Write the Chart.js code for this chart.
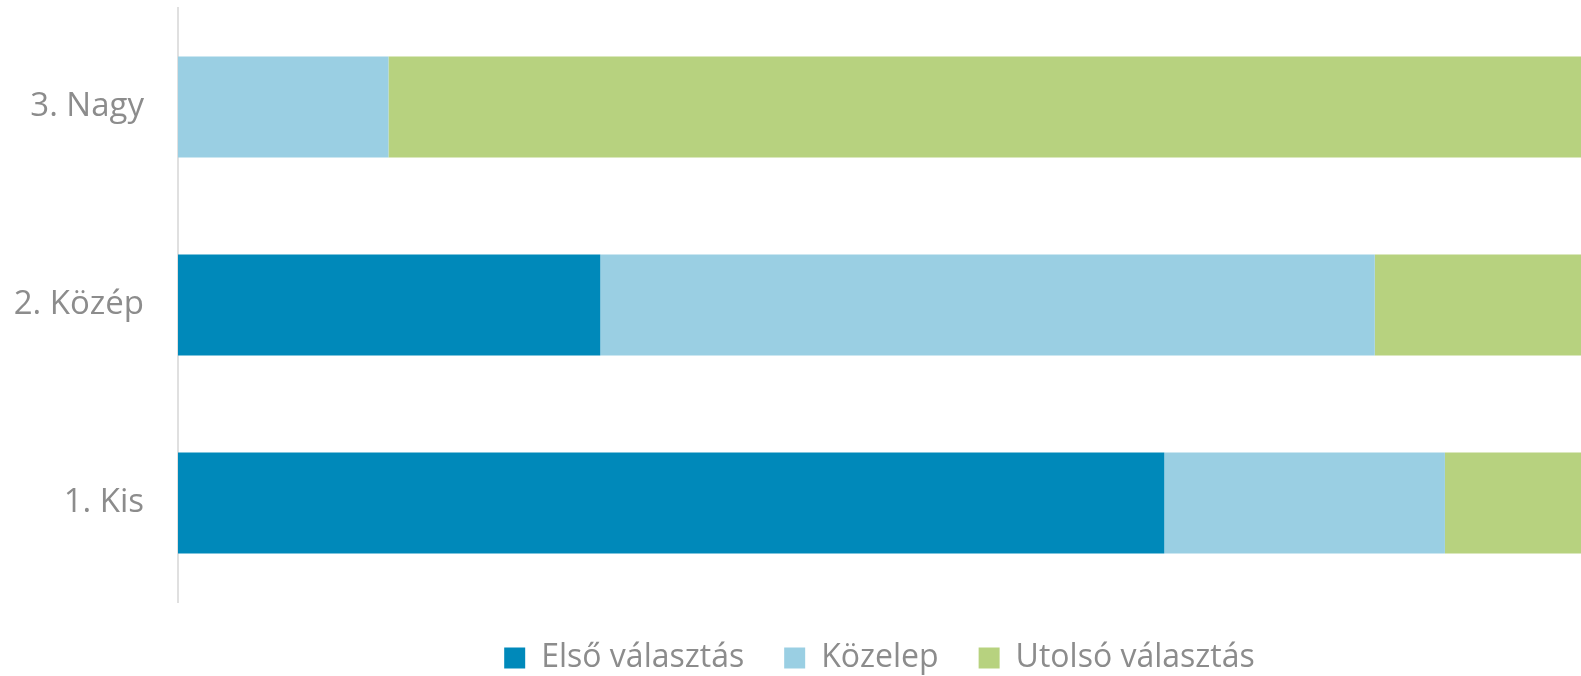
<!DOCTYPE html>
<html>
<head>
<meta charset="utf-8">
<script src="https://cdn.jsdelivr.net/npm/chart.js@4/dist/chart.umd.min.js"></script>
<style>
  body { margin: 0; background: #fff; }
  #wrap { width: 1581px; height: 676px; }
</style>
</head>
<body>
<div id="wrap"><canvas id="chart"></canvas></div>
<script>
const categories = ['1. Kis', '2. Közép', '3. Nagy'];
const elsoValasztas = [70.3, 30.1, 0];
const kozelep = [20, 55.2, 15];
const utolsoValasztas = [9.7, 14.7, 85];

// keep the legend band a fixed height so the plot area reaches down to it
const legendBand = {
  id: 'legendBand',
  beforeLayout(chart) {
    const lg = chart.legend;
    if (lg && !lg._banded) {
      const fit = lg.fit;
      lg.fit = function () {
        fit.call(this);
        this.height = 74;
      };
      lg._banded = true;
    }
  },
};

const ctx = document.getElementById('chart').getContext('2d');

new Chart(ctx, {
  type: 'bar',
  data: {
    labels: categories,
    datasets: [
      { label: 'Első választás', data: elsoValasztas, backgroundColor: '#0089BA' },
      { label: 'Közelep', data: kozelep, backgroundColor: '#9ACFE3' },
      { label: 'Utolsó választás', data: utolsoValasztas, backgroundColor: '#B7D27F' },
    ],
  },
  options: {
    indexAxis: 'y',
    responsive: true,
    maintainAspectRatio: false,
    animation: false,
    layout: { padding: { top: 8, right: 0, left: 0, bottom: 0 } },
    datasets: {
      bar: { categoryPercentage: 1, barPercentage: 0.51 },
    },
    scales: {
      x: {
        display: false,
        stacked: true,
        min: 0,
        max: 100,
      },
      y: {
        stacked: true,
        reverse: true,
        grid: { display: false, drawTicks: false },
        border: { display: true, color: '#e0e0e0', width: 2 },
        ticks: {
          padding: 34,
          color: '#8c8c8c',
          font: { family: 'Open Sans', size: 33 },
        },
        afterFit: (scale) => {
          scale.width = 178;
          scale.paddingTop = 0;
          scale.paddingBottom = 0;
        },
      },
    },
    plugins: {
      legend: {
        position: 'bottom',
        fullSize: false,
        labels: {
          boxWidth: 21,
          boxHeight: 21,
          padding: 40,
          color: '#8c8c8c',
          font: { family: 'Open Sans', size: 32 },
        },
      },
      tooltip: { enabled: false },
    },
  },
  plugins: [legendBand],
});
</script>
</body>
</html>
